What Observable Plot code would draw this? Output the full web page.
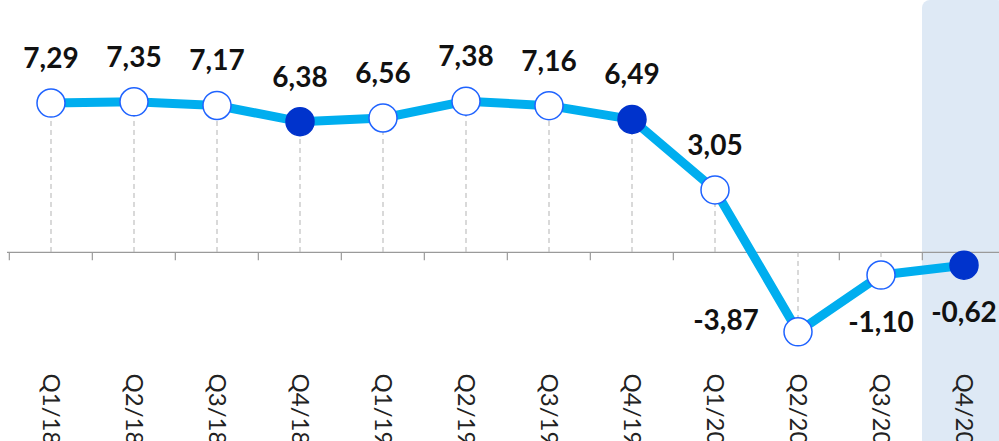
<!DOCTYPE html>
<html>
<head>
<meta charset="utf-8">
<script src="https://cdn.jsdelivr.net/npm/d3@7"></script>
<script src="https://cdn.jsdelivr.net/npm/@observablehq/plot@0.6"></script>
<style>
  html, body { margin: 0; padding: 0; background: #fff; }
  #chart { width: 999px; height: 441px; overflow: hidden; position: relative; }
</style>
</head>
<body>
<div id="chart"></div>
<script>
const categories = ["Q1/18","Q2/18","Q3/18","Q4/18","Q1/19","Q2/19","Q3/19","Q4/19","Q1/20","Q2/20","Q3/20","Q4/20"];
const values = [7.29, 7.35, 7.17, 6.38, 6.56, 7.38, 7.16, 6.49, 3.05, -3.87, -1.10, -0.62];
const highlighted = ["Q4/18", "Q4/19", "Q4/20"];
const panelCategory = "Q4/20";
const leftLabelCategory = "Q2/20";

const data = categories.map((c, i) => ({q: c, v: values[i], hl: highlighted.includes(c)}));
const fmt = v => v.toFixed(2).replace(".", ",");
const band = 1000 / 12;
const labelStyle = {fontSize: 28, fontWeight: "bold", fill: "#111", fontFamily: "Lato"};

const plot = Plot.plot({
  width: 999,
  height: 441,
  marginLeft: 7,
  marginRight: 0,
  marginTop: 0,
  marginBottom: 0,
  style: {background: "transparent", overflow: "hidden"},
  x: {type: "band", domain: categories, range: [7, 1007], padding: 0, axis: null},
  y: {domain: [-9.22, 12.29], range: [441, 0], axis: null},
  marks: [
    Plot.barY([panelCategory], {x: d => d, y1: 12.29, y2: -14, fill: "#dee9f5", rx: 8}),
    Plot.ruleY([0], {stroke: "#9a9a9a", strokeWidth: 1.2}),
    Plot.ruleX(categories, {x: d => d, y1: 0, y2: -0.4, dx: -band / 2, stroke: "#9a9a9a", strokeWidth: 1.2}),
    Plot.ruleX(data, {x: "q", y1: 0, y2: "v", stroke: "#b3b3b3", strokeWidth: 1, strokeDasharray: "5,4"}),
    Plot.line(data, {x: "q", y: "v", stroke: "#00aeef", strokeWidth: 9, strokeLinejoin: "miter"}),
    Plot.dot(data, {x: "q", y: "v", r: 14, fill: d => d.hl ? "#0033cc" : "#ffffff", stroke: d => d.hl ? "#0033cc" : "#1f63ff", strokeWidth: 1.5}),
    Plot.text(data.filter(d => d.v >= 0), {x: "q", y: "v", text: d => fmt(d.v), dy: -44, ...labelStyle}),
    Plot.text(data.filter(d => d.v < 0 && d.q === leftLabelCategory), {x: "q", y: "v", text: d => fmt(d.v), dx: -72, dy: -11, ...labelStyle}),
    Plot.text(data.filter(d => d.v < 0 && d.q !== leftLabelCategory), {x: "q", y: "v", text: d => fmt(d.v), dy: 48, ...labelStyle}),
    Plot.text(categories, {x: d => d, frameAnchor: "bottom", dy: -68, text: d => d, rotate: 90, textAnchor: "start", lineAnchor: "middle", fontSize: 24, fill: "#222", fontFamily: "Lato"})
  ]
});
document.getElementById("chart").appendChild(plot);
</script>
</body>
</html>
